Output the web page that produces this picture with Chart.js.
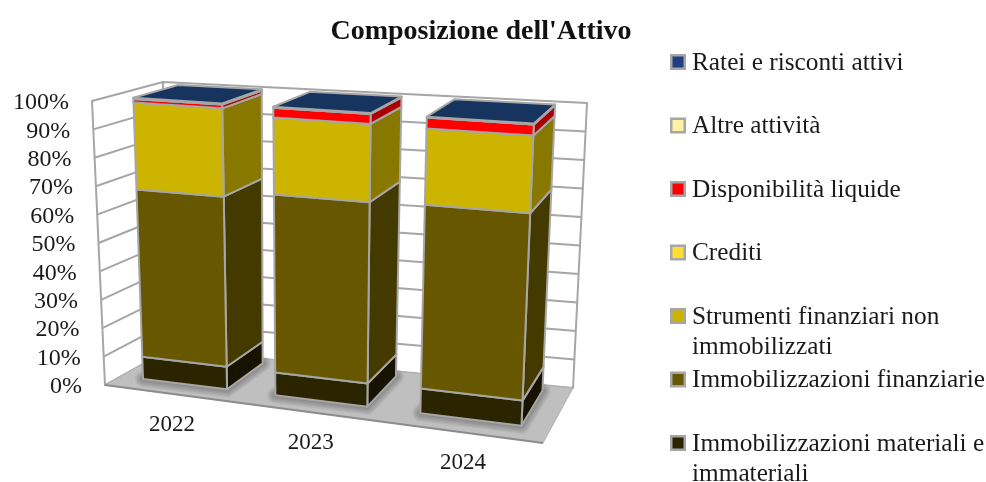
<!DOCTYPE html>
<html lang="it">
<head>
<meta charset="utf-8">
<title>Composizione dell'Attivo</title>
<script src="https://cdn.jsdelivr.net/npm/chart.js@4/dist/chart.umd.min.js"></script>
<style>
  html, body { margin: 0; padding: 0; background: #fff; }
  canvas { display: block; }
</style>
</head>
<body>
<canvas id="grafico" width="986" height="482"></canvas>
<script>
const anni = ["2022", "2023", "2024"];
const immMateriali = [7.9, 7.9, 8.3];
const immFinanziarie = [59.5, 61.7, 62.0];
const strumenti = [30.9, 26.7, 25.7];
const crediti = [0, 0, 0];
const disponibilita = [1.3, 3.4, 3.7];
const altreAttivita = [0, 0, 0];
const ratei = [0.4, 0.3, 0.3];

const nomiSerie = [
  "Immobilizzazioni materiali e immateriali",
  "Immobilizzazioni finanziarie",
  "Strumenti finanziari non immobilizzati",
  "Crediti",
  "Disponibilità liquide",
  "Altre attività",
  "Ratei e risconti attivi"
];
const valoriSerie = [immMateriali, immFinanziarie, strumenti, crediti, disponibilita, altreAttivita, ratei];
const coloriFronte = ["#2b2400", "#665700", "#ccb400", "#ffdd33", "#ff0000", "#fff2a1", "#1f3f80"];
const coloriLato = ["#171300", "#443a00", "#887800", "#aa9322", "#aa0000", "#aaa16b", "#152a55"];
const coloreCima = "#17345f";

const GRIGIO = "#a6a6a6";
const FONT = '"Liberation Serif", serif';

// corners of the 3D box on screen: front-left, front-right, back-right, back-left
const pavimento = [[105, 385], [543, 443], [573, 388], [168, 350]];
const soffitto = [[92, 101], [557, 133], [587, 103], [163, 82]];
// depth of the bars inside the box, 0 = front, 1 = back wall
const zFronte = 0.25;
const zRetro = 0.9;
// foreshortening along the category axis
const scorcio = 1.15;

function bilineare(q, u, v) {
  const ax = q[0][0] + (q[1][0] - q[0][0]) * u, ay = q[0][1] + (q[1][1] - q[0][1]) * u;
  const bx = q[3][0] + (q[2][0] - q[3][0]) * u, by = q[3][1] + (q[2][1] - q[3][1]) * u;
  return [ax + (bx - ax) * v, ay + (by - ay) * v];
}

// u = across the categories, v = depth, t = height, all 0..1
function proietta(u, v, t) {
  const w = u / (u + (1 - u) * scorcio);
  const p = bilineare(pavimento, w, v);
  const q = bilineare(soffitto, w, v);
  return [p[0] + (q[0] - p[0]) * t, p[1] + (q[1] - p[1]) * t];
}

function poligono(ctx, punti, fill, stroke, lw) {
  ctx.beginPath();
  punti.forEach((p, i) => i ? ctx.lineTo(p[0], p[1]) : ctx.moveTo(p[0], p[1]));
  ctx.closePath();
  if (fill) { ctx.fillStyle = fill; ctx.fill(); }
  if (stroke) { ctx.strokeStyle = stroke; ctx.lineWidth = lw || 2; ctx.lineJoin = "round"; ctx.stroke(); }
}

const prospettiva = {
  id: "prospettiva",
  beforeDatasetsDraw(chart) {
    const { ctx, chartArea: area, scales: { x, y } } = chart;
    const U = px => (px - area.left) / (area.right - area.left);
    const T = val => (y.bottom - val) / (y.bottom - y.top);
    ctx.save();

    // walls
    poligono(ctx, [proietta(0, 0, 0), proietta(0, 0, 1), proietta(0, 1, 1), proietta(0, 1, 0)], "#fff", GRIGIO, 2);
    poligono(ctx, [proietta(0, 1, 0), proietta(0, 1, 1), proietta(1, 1, 1), proietta(1, 1, 0)], "#fff", GRIGIO, 2);

    // gridlines and value labels come from the y scale ticks
    ctx.strokeStyle = GRIGIO;
    ctx.lineWidth = 2;
    ctx.font = "24px " + FONT;
    ctx.textAlign = "right";
    ctx.textBaseline = "middle";
    y.ticks.forEach(tick => {
      const t = T(y.getPixelForValue(tick.value));
      const a = proietta(0, 0, t), b = proietta(0, 1, t), c = proietta(1, 1, t);
      if (t > 0 && t < 1) {
        ctx.beginPath();
        ctx.moveTo(a[0], a[1]);
        ctx.lineTo(b[0], b[1]);
        ctx.lineTo(c[0], c[1]);
        ctx.stroke();
      }
      ctx.fillStyle = "#1a1a1a";
      ctx.fillText(tick.value + "%", a[0] - 23, a[1] + 2);
    });

    // floor
    const pav = [proietta(0, 0, 0), proietta(1, 0, 0), proietta(1, 1, 0), proietta(0, 1, 0)];
    poligono(ctx, pav, "#bfbfbf", "#b3b3b3", 1);
    ctx.beginPath();
    ctx.moveTo(pav[0][0], pav[0][1]);
    ctx.lineTo(pav[1][0], pav[1][1]);
    ctx.strokeStyle = "#8c8c8c";
    ctx.lineWidth = 2;
    ctx.stroke();

    const barre = chart.data.datasets.map((d, i) => chart.getDatasetMeta(i).data);

    // soft shadow under each bar, widening strokes around the footprint
    anni.forEach((anno, k) => {
      const b = barre[0][k];
      const u0 = U(b.x - b.width / 2), u1 = U(b.x + b.width / 2);
      const impronta = [proietta(u0, zFronte, 0), proietta(u1, zFronte, 0), proietta(u1, zRetro, 0), proietta(u0, zRetro, 0)];
      [16, 13, 10, 7, 4].forEach(w => poligono(ctx, impronta, null, "rgba(0,0,0,0.06)", w));
    });

    // bars: side and front of every stacked piece, then the cap
    anni.forEach((anno, k) => {
      let ultimo = null;
      barre.forEach((serie, s) => {
        const b = serie[k];
        const u0 = U(b.x - b.width / 2), u1 = U(b.x + b.width / 2);
        const t0 = T(b.base), t1 = T(b.y);
        poligono(ctx, [proietta(u1, zFronte, t0), proietta(u1, zRetro, t0), proietta(u1, zRetro, t1), proietta(u1, zFronte, t1)], coloriLato[s], GRIGIO, 2);
        poligono(ctx, [proietta(u0, zFronte, t0), proietta(u1, zFronte, t0), proietta(u1, zFronte, t1), proietta(u0, zFronte, t1)], coloriFronte[s], GRIGIO, 2);
        ultimo = { u0, u1, t1 };
      });
      const { u0, u1, t1 } = ultimo;
      poligono(ctx, [proietta(u0, zFronte, t1), proietta(u1, zFronte, t1), proietta(u1, zRetro, t1), proietta(u0, zRetro, t1)], coloreCima, GRIGIO, 2);
    });

    // category labels under the front edge of the floor
    ctx.font = "23px " + FONT;
    ctx.textAlign = "center";
    ctx.fillStyle = "#1a1a1a";
    x.ticks.forEach((tick, i) => {
      const p = proietta(U(x.getPixelForTick(i)), 0, 0);
      ctx.fillText(anni[i], p[0] + 2, p[1] + 31);
    });

    // legend, top entry is the last series
    const voci = nomiSerie.map((n, i) => i).reverse();
    ctx.font = "25.3px " + FONT;
    ctx.textAlign = "left";
    voci.forEach((s, i) => {
      const ly = 62 + i * 63.5;
      ctx.fillStyle = GRIGIO;
      ctx.fillRect(670, ly - 8, 16, 16);
      ctx.fillStyle = coloriFronte[s];
      ctx.fillRect(672.5, ly - 5.5, 11, 11);
      // wrap long names on two lines
      let riga = "", righe = [];
      nomiSerie[s].split(" ").forEach(w => {
        const prova = riga ? riga + " " + w : w;
        if (ctx.measureText(prova).width > 296 && riga) { righe.push(riga); riga = w; }
        else riga = prova;
      });
      righe.push(riga);
      ctx.fillStyle = "#1a1a1a";
      righe.forEach((r, j) => ctx.fillText(r, 692, ly + 1 + j * 30));
    });

    ctx.restore();
    return false; // bars are drawn above, skip the flat ones
  }
};

new Chart(document.getElementById("grafico"), {
  type: "bar",
  data: {
    labels: anni,
    datasets: nomiSerie.map((nome, i) => ({
      label: nome,
      data: valoriSerie[i],
      backgroundColor: coloriFronte[i],
      borderColor: GRIGIO,
      barPercentage: 0.645,
      categoryPercentage: 1
    }))
  },
  plugins: [prospettiva],
  options: {
    responsive: false,
    animation: false,
    layout: { padding: { right: 24 } },
    plugins: {
      legend: { display: false },
      tooltip: { enabled: false },
      title: {
        display: true,
        text: "Composizione dell'Attivo",
        color: "#111",
        font: { family: FONT, size: 28, weight: "bold" },
        padding: { top: 15, bottom: 10 }
      }
    },
    scales: {
      x: { stacked: true, grid: { display: false }, border: { display: false }, ticks: { display: false } },
      y: {
        stacked: true,
        min: 0,
        max: 100,
        grid: { display: false },
        border: { display: false },
        ticks: { display: false, stepSize: 10 }
      }
    }
  }
});
</script>
</body>
</html>
